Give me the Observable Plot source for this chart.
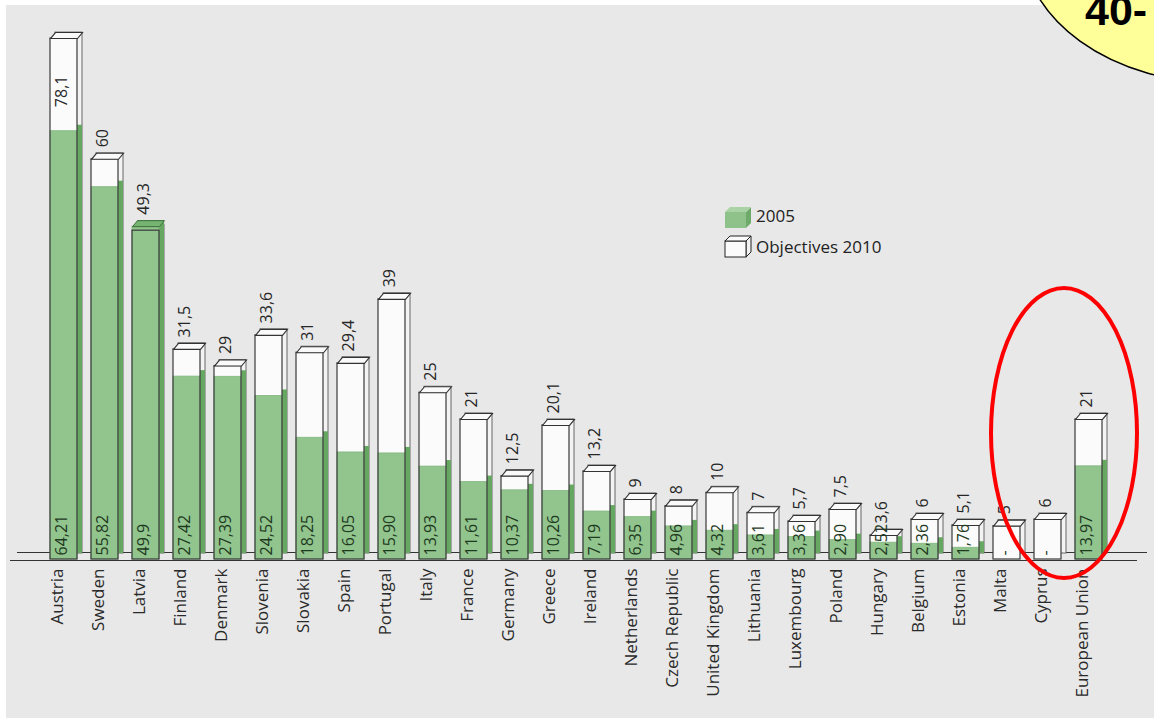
<!DOCTYPE html>
<html><head><meta charset="utf-8">
<script src="https://cdn.jsdelivr.net/npm/d3@7"></script>
<script src="https://cdn.jsdelivr.net/npm/@observablehq/plot@0.6"></script>
<style>
html,body{margin:0;padding:0;background:#fff;}
#wrap{position:relative;width:1154px;height:718px;overflow:hidden;}
#bg{position:absolute;left:6px;top:5px;right:0;bottom:0;background:#e8e8e8;}
#chart{position:absolute;left:0;top:0;}
</style></head><body>
<div id="wrap"><div id="bg"></div><div id="chart"></div></div>
<script>
const countries = ["Austria","Sweden","Latvia","Finland","Denmark","Slovenia","Slovakia","Spain","Portugal","Italy","France","Germany","Greece","Ireland","Netherlands","Czech Republic","United Kingdom","Lithuania","Luxembourg","Poland","Hungary","Belgium","Estonia","Malta","Cyprus","European Union"];
const share2005 = [64.21,55.82,49.9,27.42,27.39,24.52,18.25,16.05,15.90,13.93,11.61,10.37,10.26,7.19,6.35,4.96,4.32,3.61,3.36,2.90,2.52,2.36,1.76,null,null,13.97];
const labels2005 = ["64,21","55,82","49,9","27,42","27,39","24,52","18,25","16,05","15,90","13,93","11,61","10,37","10,26","7,19","6,35","4,96","4,32","3,61","3,36","2,90","2,52","2,36","1,76","-","-","13,97"];
const objective2010 = [78.1,60,49.3,31.5,29,33.6,31,29.4,39,25,21,12.5,20.1,13.2,9,8,10,7,5.7,7.5,3.6,6,5.1,5,6,21];
const labels2010 = ["78,1","60","49,3","31,5","29","33,6","31","29,4","39","25","21","12,5","20,1","13,2","9","8","10","7","5,7","7,5","3,6","6","5,1","5","6","21"];
const seriesNames = ["2005","Objectives 2010"];
const badgeText = "40-";

const rows = countries.map((c,i)=>({country:c, v05:share2005[i], l05:labels2005[i], obj:objective2010[i], l10:labels2010[i]}));
const green = rows.filter(d=>d.v05!=null);

const FONT = "'Open Sans', 'DejaVu Sans', sans-serif";
const DX = 5, DY = -6;
const X0 = 42, X1 = 1110, PI = 0.343;
const BW = (X1 - X0) / countries.length * (1 - PI);
const topFace = {draw(ctx){const h=BW/2; ctx.moveTo(-h,0); ctx.lineTo(h,0); ctx.lineTo(h+DX,DY); ctx.lineTo(-h+DX,DY); ctx.closePath();}};

function overlay(index, scales) {
  const x = scales.x, y = scales.y;
  const bw = x.bandwidth ? x.bandwidth() : BW;
  const g = d3.create("svg:g");
  // legend
  const lg = g.append("g").attr("font-family", FONT).attr("font-size", 17).attr("fill", "#222").attr("text-anchor", "start");
  const cube = (x0, y0, w, h, front, top, side, stroke) => {
    lg.append("path").attr("d", `M${x0+w},${y0}L${x0+w+5},${y0-5}L${x0+w+5},${y0+h-5}L${x0+w},${y0+h}Z`).attr("fill", side).attr("stroke", stroke);
    lg.append("rect").attr("x", x0).attr("y", y0).attr("width", w).attr("height", h).attr("fill", front).attr("stroke", stroke);
    lg.append("path").attr("d", `M${x0},${y0}L${x0+w},${y0}L${x0+w+5},${y0-5}L${x0+5},${y0-5}Z`).attr("fill", top).attr("stroke", stroke);
  };
  cube(725, 212, 21, 16, "#8fc28b", "#a9d3a5", "#6eaa6a", "none");
  lg.append("text").attr("x", 756).attr("y", 222).attr("text-anchor", "start").text(seriesNames[0]);
  cube(725, 241, 21, 16, "#fbfbfb", "#fbfbfb", "#f2f2f2", "#222");
  lg.append("text").attr("x", 756).attr("y", 253).attr("text-anchor", "start").text(seriesNames[1]);
  // red highlight ellipse around the last three
  const cx = (x("Cyprus") + x("European Union")) / 2 + bw / 2 - 4;
  g.append("ellipse").attr("cx", cx).attr("cy", y(18.9)).attr("rx", 73).attr("ry", 145)
    .attr("fill", "none").attr("stroke", "#ff0000").attr("stroke-width", 4);
  // yellow badge top-right
  g.append("ellipse").attr("cx", 1220).attr("cy", -60).attr("rx", 198).attr("ry", 143)
    .attr("fill", "#ffff99").attr("stroke", "#000").attr("stroke-width", 1.5);
  g.append("text").attr("x", 1085).attr("y", 25).attr("text-anchor", "start").attr("font-family", "'Liberation Sans', Arial, sans-serif")
    .attr("font-weight", "bold").attr("font-size", 43).attr("fill", "#000").text(badgeText);
  return g.node();
}

const chart = Plot.plot({
  width: 1154, height: 718,
  marginLeft: X0, marginRight: 1154 - X1, marginTop: 25.4, marginBottom: 159,
  style: {background: "transparent", fontFamily: FONT},
  x: {domain: countries, range: [X0, X1], paddingInner: PI, paddingOuter: PI/2, axis: null},
  y: {domain: [0, 80], range: [559, 25.4], axis: null},
  marks: [
    Plot.ruleY([0], {stroke: "#333", strokeWidth: 1.2, dy: -7, insetLeft: -25, insetRight: -37}),
    // objective bars: side (back) face
    Plot.barY(rows, {x: "country", y1: 0, y2: "obj", dx: DX, dy: DY, fill: "#f3f3f3", stroke: "#666", strokeWidth: 1}),
    // 2005 bars: side face
    Plot.barY(green, {x: "country", y1: 0, y2: "v05", dx: DX, dy: DY, fill: "#66a862"}),
    // objective front fill
    Plot.barY(rows, {x: "country", y1: 0, y2: "obj", fill: "#fbfbfb"}),
    // 2005 front
    Plot.barY(green, {x: "country", y1: 0, y2: "v05", fill: "#92c48e", stroke: "#82b77e", strokeWidth: 0.8}),
    // objective front outline
    Plot.barY(rows, {x: "country", y1: 0, y2: "obj", fill: "none", stroke: "#3a3a3a", strokeWidth: 1.2}),
    // top faces
    Plot.dot(rows.filter(d => d.v05 == null || d.obj > d.v05), {x: "country", y: "obj", symbol: topFace, fill: "#fafafa", stroke: "#333", strokeWidth: 1.1}),
    Plot.dot(green.filter(d => d.v05 >= d.obj), {x: "country", y: "v05", symbol: topFace, fill: "#76b472", stroke: "#3d6e3a", strokeWidth: 1}),
    Plot.ruleY([0], {stroke: "#333", strokeWidth: 1.2, dy: 1, insetLeft: -32, insetRight: -27}),
    // value labels 2010
    Plot.text(rows.filter(d => d.obj < 70), {x: "country", y: d => Math.max(d.obj, d.v05 ?? 0), text: "l10", rotate: -90, textAnchor: "start", dy: -12, dx: -2, fontSize: 16, fill: "#262626"}),
    Plot.text(rows.filter(d => d.obj >= 70), {x: "country", y: "obj", text: "l10", rotate: -90, textAnchor: "end", dy: 37, dx: -2, fontSize: 16, fill: "#262626"}),
    // value labels 2005
    Plot.text(rows, {x: "country", y: 0, text: "l05", rotate: -90, textAnchor: "start", dy: -4, dx: -2, fontSize: 16, fill: "#1e3a1e"}),
    // country labels
    Plot.text(countries, {x: d => d, y: 0, text: d => d, rotate: -90, textAnchor: "end", dy: 9, dx: -6, fontSize: 17, fill: "#2a2a2a"}),
    overlay
  ]
});
document.getElementById("chart").appendChild(chart);
</script>
</body></html>
